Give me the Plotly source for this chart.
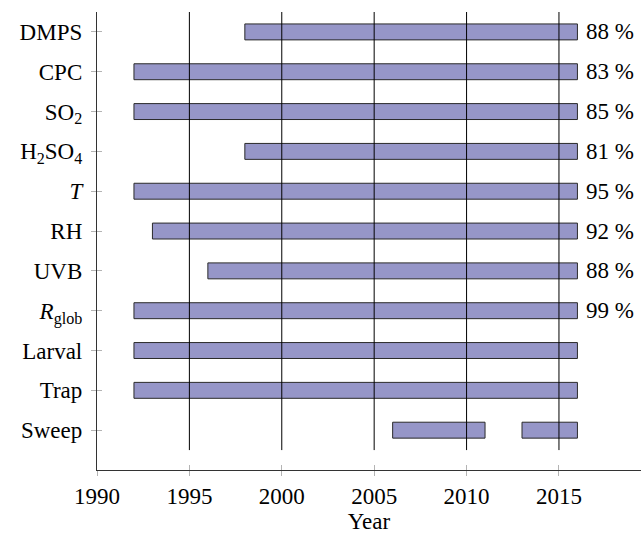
import plotly.graph_objects as go

# Measurement series, listed top to bottom
labels = ["DMPS", "CPC", "SO<sub>2</sub>", "H<sub>2</sub>SO<sub>4</sub>", "<i>T</i>",
          "RH", "UVB", "<i>R</i><sub>glob</sub>", "Larval", "Trap", "Sweep"]
# Coverage periods (start year, end year); Sweep has two separate periods
periods = [
    [(1998, 2016)],
    [(1992, 2016)],
    [(1992, 2016)],
    [(1998, 2016)],
    [(1992, 2016)],
    [(1993, 2016)],
    [(1996, 2016)],
    [(1992, 2016)],
    [(1992, 2016)],
    [(1992, 2016)],
    [(2006, 2011), (2013, 2016)],
]
# Data availability in percent (None where not stated)
availability = [88, 83, 85, 81, 95, 92, 88, 99, None, None, None]

year_ticks = [1990, 1995, 2000, 2005, 2010, 2015]

FONT = "Liberation Serif"
FS = 23
n = len(labels)
ypos = [n - 1 - i for i in range(n)]

starts, lengths, ys = [], [], []
for i, segs in enumerate(periods):
    for a, b in segs:
        starts.append(a)
        lengths.append(b - a)
        ys.append(ypos[i])

fig = go.Figure()
fig.add_trace(go.Bar(
    orientation="h", base=starts, x=lengths, y=ys, width=0.4,
    marker=dict(color="#9696c8", line=dict(color="#2a2a2a", width=1)),
    showlegend=False, hoverinfo="skip",
))

# vertical grid lines drawn over the bars
gx, gy = [], []
for t in year_ticks[1:]:
    gx += [t, t, None]
    gy += [-0.5, n - 0.5, None]
fig.add_trace(go.Scatter(x=gx, y=gy, mode="lines",
                         line=dict(color="black", width=1),
                         showlegend=False, hoverinfo="skip"))

# empty trace to carry the overlay axes (inner half of the tick marks)
fig.add_trace(go.Scatter(x=[None], y=[None], xaxis="x2", yaxis="y2",
                         showlegend=False, hoverinfo="skip"))

for i, p in enumerate(availability):
    if p is None:
        continue
    end = max(b for _, b in periods[i])
    fig.add_annotation(x=end, y=ypos[i], text=f"{p} %", showarrow=False,
                       xanchor="left", yanchor="middle", xshift=7,
                       font=dict(family=FONT, size=FS, color="black"))

xrange = [1990, 2019.44]
yrange = [-1, n - 0.5]
fig.update_layout(
    width=641, height=534,
    margin=dict(l=97, r=0, t=12, b=62),
    plot_bgcolor="white", paper_bgcolor="white",
    barmode="overlay",
    font=dict(family=FONT, size=FS, color="black"),
    xaxis=dict(range=xrange, tickvals=year_ticks, showgrid=False, zeroline=False,
               showline=True, linecolor="#333333", linewidth=1.3,
               ticks="outside", ticklen=5, tickcolor="#b4b4b4", tickwidth=1,
               ticklabelstandoff=0,
               title=dict(text="Year", standoff=9, font=dict(family=FONT, size=FS))),
    yaxis=dict(range=yrange, tickvals=ypos, ticktext=labels, showgrid=False,
               zeroline=False, showline=True, linecolor="#333333", linewidth=1.3,
               ticks="outside", ticklen=5, tickcolor="#b4b4b4", tickwidth=1,
               ticklabelstandoff=4),
    xaxis2=dict(overlaying="x", matches="x", anchor="y2", side="bottom",
                range=xrange, tickvals=year_ticks, showticklabels=False,
                ticks="inside", ticklen=5, tickcolor="#b4b4b4", tickwidth=1,
                showgrid=False, zeroline=False, showline=False),
    yaxis2=dict(overlaying="y", matches="y", anchor="x2", side="left",
                range=yrange, tickvals=ypos, showticklabels=False,
                ticks="inside", ticklen=5, tickcolor="#b4b4b4", tickwidth=1,
                showgrid=False, zeroline=False, showline=False),
)

fig.write_html("out.html")
